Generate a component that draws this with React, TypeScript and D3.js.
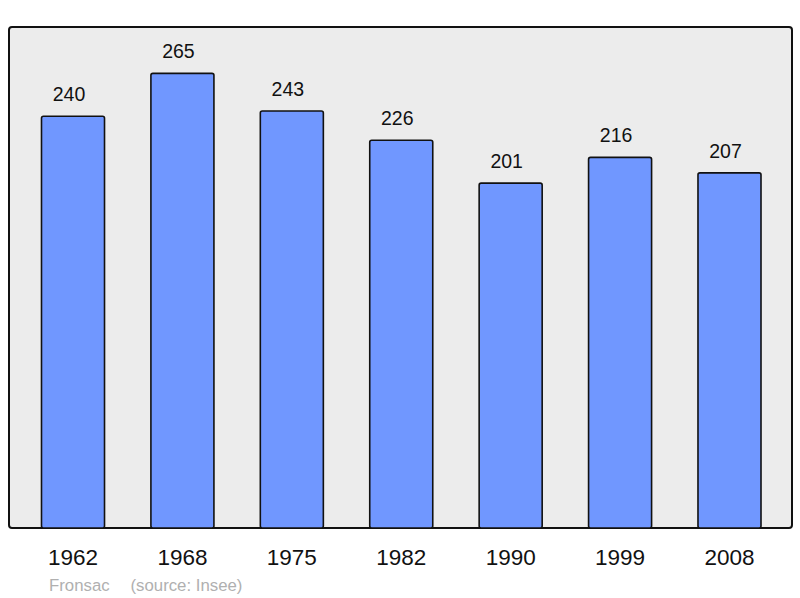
import React from "react";
import * as d3 from "d3";

const years = ["1962", "1968", "1975", "1982", "1990", "1999", "2008"];
const population = [240, 265, 243, 226, 201, 216, 207];
const commune = "Fronsac";
const sourceText = "(source: Insee)";

const W = 800;
const H = 598;

export default function App() {
  const x = d3.scaleBand<string>().domain(years).range([18.3, 784.2]).paddingInner(0.424).paddingOuter(0.212);
  const y = d3.scaleLinear().domain([0, 292]).range([528, 27]);
  const font = "'Liberation Sans', Arial, sans-serif";
  return (
    <svg width={W} height={H} style={{ position: "absolute", left: 0, top: 0 }}>
      <rect x={9} y={27} width={783} height={501} rx={3} fill="#ececec" stroke="#111" strokeWidth={2} />
      {years.map((yr, i) => {
        const bx = x(yr)!;
        const v = population[i];
        return (
          <g key={yr}>
            <rect x={bx} y={y(v)} width={x.bandwidth()} height={y(0) - y(v)} rx={2} fill="#7097ff" stroke="#111" strokeWidth={1.6} />
            <text x={bx + x.bandwidth() / 2 - 4} y={y(v) - 15} textAnchor="middle" fontFamily={font} fontSize={19.5} fill="#111">{v}</text>
            <text x={bx + x.bandwidth() / 2} y={565} textAnchor="middle" fontFamily={font} fontSize={22.5} fill="#111">{yr}</text>
          </g>
        );
      })}
      <text x={49} y={590.5} fontFamily={font} fontSize={16.8} fill="#b0b0b0">{commune}</text>
      <text x={130.5} y={590.5} fontFamily={font} fontSize={16.8} fill="#b0b0b0">{sourceText}</text>
    </svg>
  );
}
